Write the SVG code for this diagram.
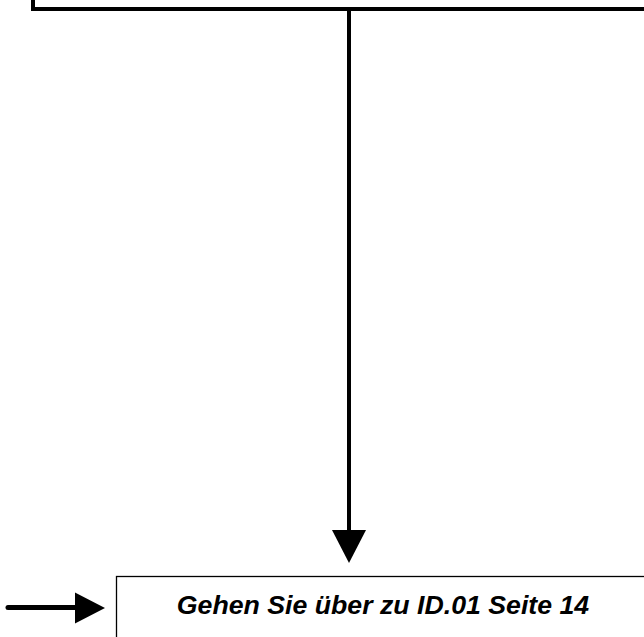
<svg xmlns="http://www.w3.org/2000/svg" width="644" height="637" viewBox="0 0 644 637">
<style>
.thick{fill:none;stroke:#000;stroke-width:4}
.thin{fill:#fff;stroke:#000;stroke-width:1.3}
.lbl{font-family:"Liberation Sans",Arial,sans-serif;font-weight:bold;font-style:italic;font-size:26.7px;fill:#000}
</style>
<g id="top-node">
<path class="thick" d="M33 -10 V9 H650"/>
</g>
<g id="goto-node">
<rect class="thin" x="116.5" y="576.5" width="540" height="80"/>
<text class="lbl" x="383" y="614" text-anchor="middle">Gehen Sie über zu ID.01 Seite 14</text>
</g>
<g id="connectors">
<line x1="349" y1="11" x2="349" y2="532" stroke="#000" stroke-width="4"/>
<polygon points="332,530 366,530 349,563" fill="#000"/>
<line x1="8" y1="607.5" x2="78" y2="607.5" stroke="#000" stroke-width="5" stroke-linecap="round"/>
<polygon points="75,592.5 105,608 75,623.5" fill="#000"/>
</g>
</svg>
